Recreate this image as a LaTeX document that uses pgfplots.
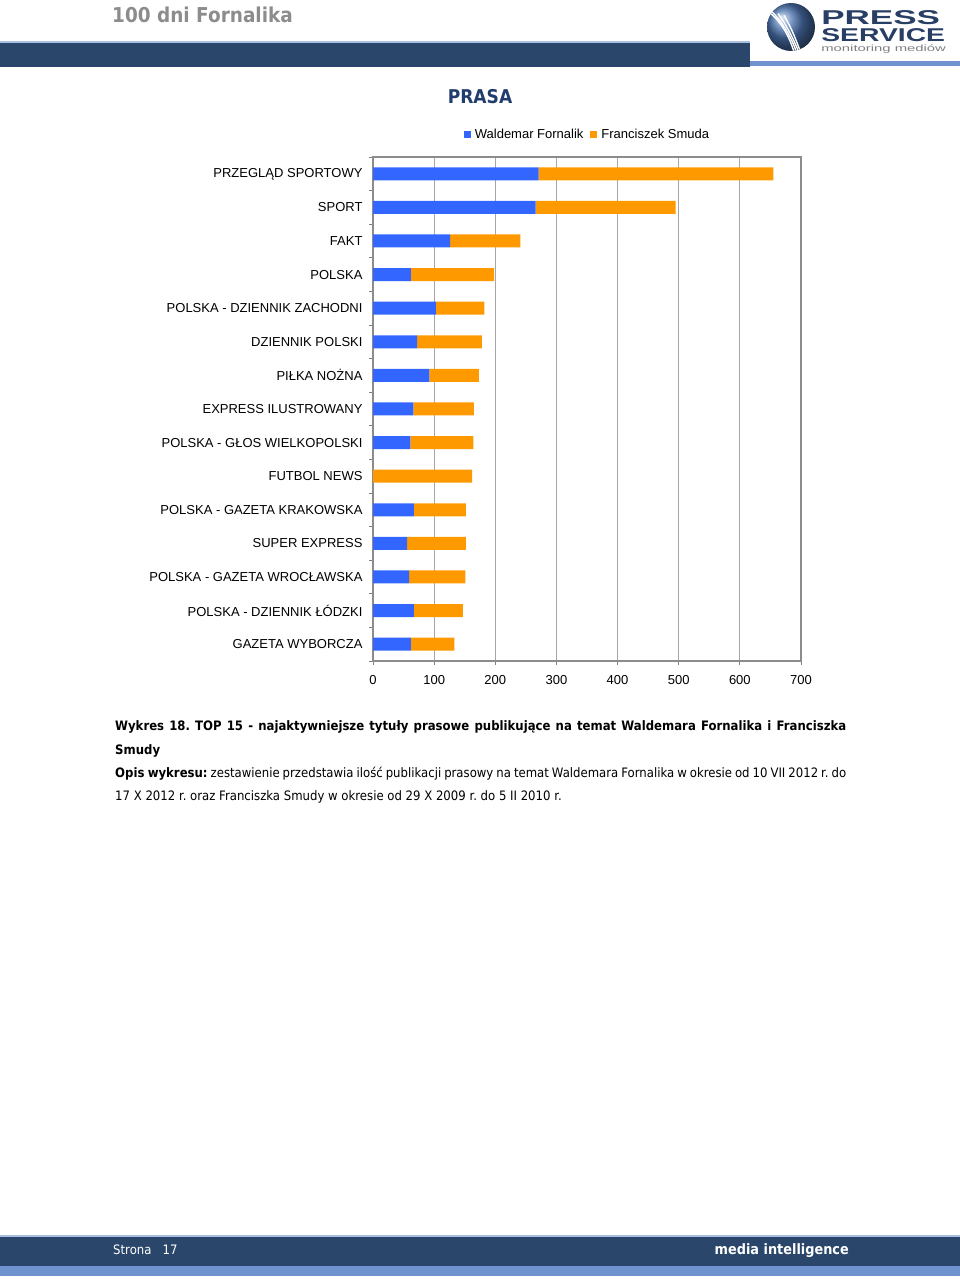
\documentclass[border=0pt]{standalone}
\usepackage{fontspec}
\setmainfont{Liberation Sans}
\newfontfamily\tahoma{DejaVu Sans}[FakeStretch=0.9]
\usepackage{pgfplots}
\pgfplotsset{compat=1.18}
\frenchspacing
\definecolor{wf}{RGB}{51,102,255}
\definecolor{fs}{RGB}{255,153,0}
\definecolor{hdr}{RGB}{42,70,106}
\definecolor{lightb}{RGB}{112,146,206}
\definecolor{titleblue}{RGB}{31,62,110}
\definecolor{logoblue}{RGB}{40,62,100}
\definecolor{ballblue}{RGB}{75,115,175}
\begin{document}
\begin{tikzpicture}[x=1pt,y=1pt]
\path[use as bounding box] (0,0) rectangle (960,1282);
\coordinate (AX) at (373,621);
% header
\node[anchor=west, inner sep=0pt, text=black!45, font=\tahoma\bfseries\fontsize{20.5}{24}\selectfont] at (112,1267) {100 dni Fornalika};
\fill[hdr] (0,1215) rectangle (750,1239);
\fill[lightb!60] (0,1239) rectangle (750,1240.5);
\fill[lightb] (750,1216) rectangle (960,1221);
% logo
\begin{scope}
\shade[ball color=ballblue] (791,1255) circle (24);
\clip (791,1255) circle (24);
\foreach \d in {0,6,12,18}{
  \draw[white, line width=1.4pt] (766+\d,1272-\d*0.3) .. controls (778+\d,1264-\d) and (788+\d*0.6,1250-\d) .. (794+\d*0.4,1230);
}
\end{scope}
\node[anchor=west, inner sep=0pt, text=logoblue, font=\bfseries\fontsize{20}{20}\selectfont, xscale=1.75] at (821,1264) {PRESS};
\node[anchor=west, inner sep=0pt, text=logoblue, font=\bfseries\fontsize{18.5}{19}\selectfont, xscale=1.53] at (821,1247) {SERVICE};
\node[anchor=west, inner sep=0pt, text=black!50, font=\fontsize{9}{10}\selectfont, xscale=1.65] at (821,1233) {monitoring mediów};
% title
\node[text=titleblue, font=\tahoma\bfseries\fontsize{19}{22}\selectfont] at (480,1185) {PRASA};
% chart
\begin{axis}[
  at={(AX)}, anchor=south west, scale only axis,
  width=428pt, height=504pt,
  xbar stacked, bar width=13pt,
  xmin=0, xmax=700, ymin=-0.5, ymax=14.5, y dir=reverse,
  xtick={0,100,...,700},
  xmajorgrids, grid style={draw=black!35, line width=1pt},
  ytick={0,...,14},
  yticklabels={PRZEGLĄD SPORTOWY, SPORT, FAKT, POLSKA, POLSKA - DZIENNIK ZACHODNI, DZIENNIK POLSKI, PIŁKA NOŻNA, EXPRESS ILUSTROWANY, POLSKA - GŁOS WIELKOPOLSKI, FUTBOL NEWS, POLSKA - GAZETA KRAKOWSKA, SUPER EXPRESS, POLSKA - GAZETA WROCŁAWSKA, POLSKA - DZIENNIK ŁÓDZKI, GAZETA WYBORCZA},
  minor ytick={-0.5,0.5,...,14.5},
  tick align=outside, tick pos=left,
  major tick length=4pt, minor tick length=4pt,
  ytick style={draw=none},
  minor y tick style={draw=black!50, line width=0.8pt},
  xtick style={draw=black!50, line width=0.8pt},
  axis line style={draw=black!45, line width=1.2pt},
  ticklabel style={font=\fontsize{13}{15}\selectfont},
  yticklabel style={xshift=-3pt},
  xticklabel style={yshift=-7pt},
  /pgf/number format/assume math mode=true,
  legend style={at={(0.5,1)}, anchor=center, yshift=22pt, draw=none, fill=none,
    font=\fontsize{13}{15}\selectfont, legend columns=2,
    /tikz/every odd column/.append style={column sep=0pt},
    /tikz/every even column/.append style={column sep=6pt},
    /tikz/every node/.append style={inner sep=1pt}},
  legend image code/.code={\fill[#1] (0pt,-3.5pt) rectangle (7pt,3.5pt); \path (0pt,0pt) (10pt,0pt);},
]
\addplot[fill=wf, draw=none] coordinates {(271,0) (266,1) (126,2) (62,3) (103,4) (72,5) (92,6) (66,7) (61,8) (0,9) (67,10) (56,11) (59,12) (67,13) (62,14)};
\addplot[fill=fs, draw=none] coordinates {(384,0) (229,1) (115,2) (136,3) (79,4) (106,5) (81,6) (99,7) (103,8) (162,9) (85,10) (96,11) (92,12) (80,13) (71,14)};
\legend{Waldemar Fornalik, Franciszek Smuda}
\end{axis}
% caption
\node[anchor=base west, inner sep=0pt, text width=731pt, align=justify, font=\tahoma\fontsize{13}{23.3}\selectfont] at (115,551) {\textbf{Wykres 18. TOP 15 - najaktywniejsze tytuły prasowe publikujące na temat Waldemara Fornalika i Franciszka\linebreak Smudy}\par
\textbf{Opis wykresu:} zestawienie przedstawia ilość publikacji prasowy na temat Waldemara Fornalika w okresie od 10 VII 2012 r. do\linebreak 17 X 2012 r. oraz Franciszka Smudy w okresie od 29 X 2009 r. do 5 II 2010 r.\par};
% footer
\fill[hdr] (0,16) rectangle (960,45);
\fill[lightb!60] (0,45) rectangle (960,46.5);
\fill[lightb] (0,6) rectangle (960,16);
\node[anchor=west, inner sep=0pt, text=white, font=\tahoma\fontsize{13}{15}\selectfont] at (113,32) {Strona\ \ \ 17};
\node[anchor=east, inner sep=0pt, text=white, font=\tahoma\bfseries\fontsize{14.3}{16}\selectfont] at (849,31) {media intelligence};
\end{tikzpicture}
\end{document}
